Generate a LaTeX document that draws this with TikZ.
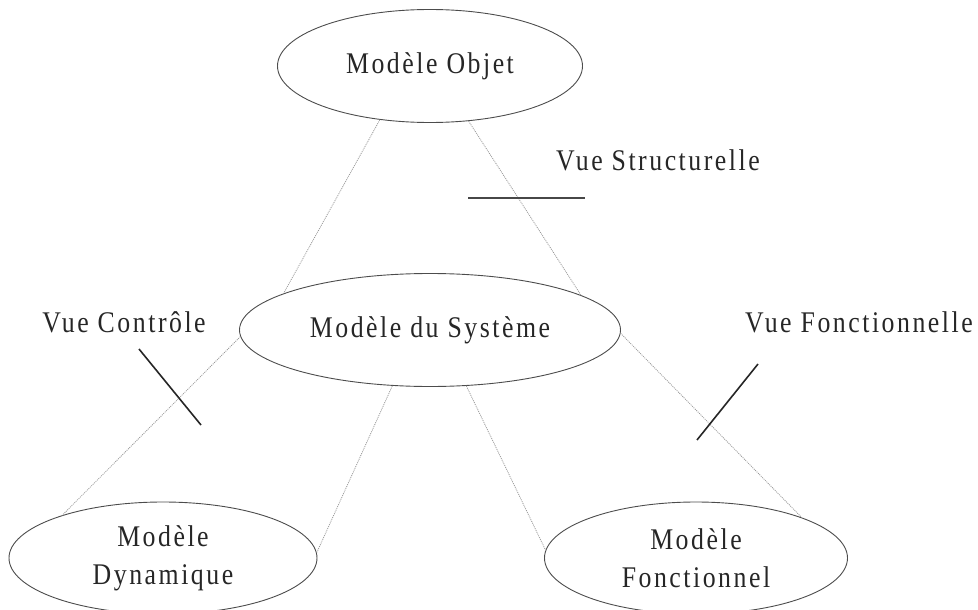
\documentclass[tikz,border=0pt]{standalone}
\usepackage{fontspec}
\setmainfont{Liberation Serif}[FakeStretch=0.86,LetterSpace=8.4]
\usetikzlibrary{shapes.geometric}
\begin{document}
\begin{tikzpicture}[x=1pt,y=-1pt,
  model/.style={ellipse, draw=black!70, line width=0.9pt, inner sep=0pt,
    font=\fontsize{30}{38}\selectfont, text=black!85, align=center},
  link/.style={draw=black!40, line width=0.8pt, dash pattern=on 1pt off 1pt},
  tickline/.style={draw=black!85, line width=1.6pt},
  lbl/.style={font=\fontsize{30}{38}\selectfont, text=black!85, anchor=base, inner sep=0pt}]
\useasboundingbox (0,0) rectangle (978,610);
% models
\node[model, minimum width=305pt, minimum height=113pt] (obj) at (430,66) {Modèle Objet};
\node[model, minimum width=381pt, minimum height=113pt] (sys) at (430,330) {Modèle du Système};
\node[model, minimum width=308pt, minimum height=112pt] (dyn) at (163,558) {Modèle\\Dynamique};
\node[model, minimum width=303pt, minimum height=112pt] (fon) at (696,558) {Modèle\\Fonctionnel};
% dotted connectors
\draw[link] (obj.227) -- (sys.166.4);
\draw[link] (obj.305) -- (sys.13.9);
\draw[link] (sys.182) -- (dyn.157.8);
\draw[link] (sys.236.3) -- (dyn.2.6);
\draw[link] (sys.303.7) -- (fon.177.8);
\draw[link] (sys.359.4) -- (fon.21.4);
% view ticks
\coordinate (s1) at (468,198);
\coordinate (s2) at (585,198);
\coordinate (c1) at (139,349);
\coordinate (c2) at (201,425);
\coordinate (f1) at (758,364);
\coordinate (f2) at (697,440);
\draw[tickline, draw=black!72] (s1) -- (s2);
\draw[tickline] (c1) -- (c2);
\draw[tickline] (f1) -- (f2);
% labels
\node[lbl] (vs) at (658,170) {Vue Structurelle};
\node[lbl] (vc) at (124,332) {Vue Contrôle};
\node[lbl] (vf) at (859,332) {Vue Fonctionnelle};
\end{tikzpicture}
\end{document}
